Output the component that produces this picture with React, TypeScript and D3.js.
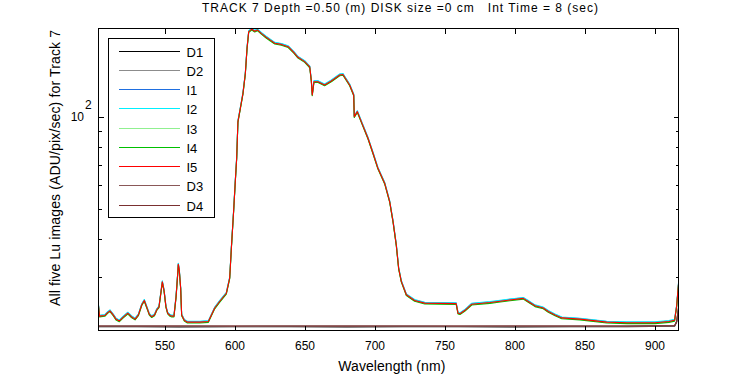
import React from "react";
import * as d3 from "d3";

// ---------- data ----------
const titleText = "TRACK 7 Depth =0.50 (m) DISK size =0 cm   Int Time = 8 (sec)";
const xLabelText = "Wavelength (nm)";
const yLabelText = "All five Lu images (ADU/pix/sec) for Track 7";

const xTicks = [550, 600, 650, 700, 750, 800, 850, 900];
const yMajorTicks = [100];
const yMinorTicks = [30, 40, 50, 60, 70, 80, 90];

const seriesNames = ["D1", "D2", "I1", "I2", "I3", "I4", "I5", "D3", "D4"];

// illuminated spectrum (wavelength nm, ADU/pix/sec)
const lightWavelengths = [
  502.5, 503.2, 507, 509, 510.7, 513, 515, 517.4, 520, 523.4, 526, 528.6, 531, 533.4, 535.2, 536.9,
  538.8, 540.5, 542.5, 544.1, 545.7, 547, 548.1, 549.3, 550.7, 551.9, 553.6, 554.8, 556.4, 557.9,
  559.1, 559.5, 560.2, 561.2, 561.9, 563.8, 566, 575, 581, 585.5, 589, 593.8, 596.2, 597.4, 599,
  600.2, 601.2, 602.1, 603.8, 605.7, 607.4, 608.6, 609.8, 612, 614.1, 616, 618.8, 622, 625, 628.4,
  633.1, 638, 642, 645, 649.8, 653.4, 654.5, 655.2, 656.4, 659.3, 664, 668.8, 674.8, 677.1, 681.9,
  684.8, 685.2, 687.4, 690.2, 695, 698.6, 702.1, 706.9, 710.5, 712.9, 715.2, 716.9, 718.8, 722.4,
  728.3, 735.5, 758, 759.3, 760.7, 764.3, 769.1, 782.1, 788.1, 796.4, 805.9, 809.5, 814.3, 820.2,
  823.8, 828.6, 833.4, 846.4, 865.5, 880, 900, 910, 914, 915.5, 916.8,
];
const lightValues = [
  24.2, 22.4, 22.5, 23.0, 23.3, 22.6, 21.9, 21.6, 22.2, 22.9, 22.3, 21.9, 22.6, 24.4, 25.2, 24.0,
  22.7, 22.3, 22.6, 23.5, 24.0, 26.6, 29.0, 27.2, 24.0, 22.9, 22.5, 22.4, 22.4, 25.9,
  30.9, 33.1, 31.7, 27.6, 22.6, 21.7, 21.4, 21.4, 21.5, 23.8, 25.0, 26.6, 29.8, 37.3, 49.2,
  61.6, 73.5, 96.8, 106.9, 119.7, 139.2, 168, 190.5, 194, 191, 193, 188, 183, 179, 174.5,
  173, 170, 163, 157, 152, 146, 132, 118.3, 130.7, 130.7, 127.5, 131.4, 137.5, 138, 127.5,
  118.3, 100.5, 104.3, 96.8, 85.4, 76.3, 68.1, 60.9, 53.0, 45.6, 38.3, 32.1, 29.1, 26.3,
  25.2, 24.7, 24.6, 22.9, 22.8, 23.4, 24.5, 24.8, 25.0, 25.3, 25.6, 25.0, 24.2, 23.8,
  23.2, 22.6, 22.1, 21.9, 21.4, 21.3, 21.3, 21.5, 21.7, 24.2, 28.5,
];
// relative level of each illuminated image vs I5
const lightRelativeLevel = { I1: 1.004, I2: 1.007, I3: 0.998, I4: 0.994, I5: 1.0 };

// dark images
const darkWavelengths = [502.5, 530, 560, 600, 640, 680, 720, 760, 800, 840, 880, 914, 915.5, 916.8];
const darkD1 = [20.7, 20.7, 20.65, 20.7, 20.7, 20.65, 20.7, 20.7, 20.65, 20.7, 20.7, 20.75, 21.4, 23.5];
const darkD2 = [20.75, 20.75, 20.75, 20.72, 20.75, 20.75, 20.75, 20.72, 20.75, 20.75, 20.75, 20.8, 21.5, 23.8];
const darkD3 = [20.8, 20.78, 20.8, 20.78, 20.8, 20.78, 20.8, 20.78, 20.8, 20.78, 20.78, 20.85, 21.6, 24.0];
const darkD4 = [20.8, 20.8, 20.8, 20.8, 20.8, 20.8, 20.8, 20.8, 20.8, 20.8, 20.8, 20.85, 21.5, 23.8];

const colors: Record<string, string> = {
  D1: "#000000",
  D2: "#8c8c8c",
  I1: "#1f6fe0",
  I2: "#00f0ff",
  I3: "#90f090",
  I4: "#00c000",
  I5: "#ff0000",
  D3: "#8a5858",
  D4: "#7a3030",
};

// ---------- layout ----------
const W = 750;
const H = 375;
const L = 98.5;
const R = 678.5;
const T = 28.5;
const B = 330.5;

export default function App() {
  const x = d3.scaleLinear().domain([502.5, 916.8]).range([L, R]);
  const y = d3.scaleLog().domain([20.1, 195]).range([B, T]);

  const line = d3
    .line<[number, number]>()
    .x((d) => x(d[0]))
    .y((d) => y(d[1]));

  const darkMap: Record<string, number[]> = { D1: darkD1, D2: darkD2, D3: darkD3, D4: darkD4 };

  const seriesPaths = seriesNames.map((name) => {
    let pts: [number, number][];
    if (darkMap[name]) {
      pts = darkWavelengths.map((w, i) => [w, darkMap[name][i]] as [number, number]);
    } else {
      const k = (lightRelativeLevel as any)[name] as number;
      pts = lightWavelengths.map((w, i) => [w, lightValues[i] * k] as [number, number]);
    }
    return { name, d: line(pts) || "" };
  });

  const font = "'Liberation Sans', Arial, Helvetica, sans-serif";
  const legX = 108.5;
  const legY = 38.5;
  const rowH = 19.25;

  return (
    <svg
      width={W}
      height={H}
      style={{ position: "absolute", left: 0, top: 0, background: "#fff" }}
      fontFamily={font}
    >
      <rect x={0} y={0} width={W} height={H} fill="#fff" />
      <defs>
        <clipPath id="plotClip">
          <rect x={L} y={T - 1} width={R - L + 1} height={B - T + 2} />
        </clipPath>
      </defs>

      {/* data */}
      <g clipPath="url(#plotClip)">
        {seriesPaths.map((s) => (
          <path
            key={s.name}
            d={s.d}
            fill="none"
            stroke={colors[s.name]}
            strokeWidth={1.1}
            strokeLinejoin="round"
          />
        ))}
      </g>

      {/* frame */}
      <rect x={L} y={T} width={R - L} height={B - T} fill="none" stroke="#000" strokeWidth={1} shapeRendering="crispEdges" />

      {/* x ticks */}
      {xTicks.map((t) => (
        <g key={"x" + t} shapeRendering="crispEdges">
          <line x1={Math.round(x(t)) + 0.5} x2={Math.round(x(t)) + 0.5} y1={B} y2={B - 5} stroke="#000" />
          <line x1={Math.round(x(t)) + 0.5} x2={Math.round(x(t)) + 0.5} y1={T} y2={T + 5} stroke="#000" />
          <text x={x(t)} y={349.5} fontSize={12} textAnchor="middle" fill="#000">
            {t}
          </text>
        </g>
      ))}

      {/* y ticks */}
      {yMajorTicks.map((t) => (
        <g key={"ym" + t} shapeRendering="crispEdges">
          <line x1={L} x2={L + 5} y1={Math.round(y(t)) + 0.5} y2={Math.round(y(t)) + 0.5} stroke="#000" />
          <line x1={R} x2={R - 5} y1={Math.round(y(t)) + 0.5} y2={Math.round(y(t)) + 0.5} stroke="#000" />
          <text x={84} y={y(t) + 4} fontSize={12} textAnchor="end" fill="#000">
            10
          </text>
          <text x={85} y={y(t) - 8.5} fontSize={12} textAnchor="start" fill="#000">
            2
          </text>
        </g>
      ))}
      {yMinorTicks.map((t) => (
        <g key={"yn" + t} shapeRendering="crispEdges">
          <line x1={L} x2={L + 3} y1={Math.round(y(t)) + 0.5} y2={Math.round(y(t)) + 0.5} stroke="#000" />
          <line x1={R} x2={R - 3} y1={Math.round(y(t)) + 0.5} y2={Math.round(y(t)) + 0.5} stroke="#000" />
        </g>
      ))}

      {/* legend */}
      <rect
        x={legX}
        y={legY}
        width={106}
        height={179}
        fill="#fff"
        stroke="#000"
        strokeWidth={1}
        shapeRendering="crispEdges"
      />
      {seriesNames.map((name, i) => {
        const ly = Math.round(legY + 12.2 + i * rowH) + 0.5;
        return (
          <g key={"leg" + name}>
            <line x1={119} x2={180} y1={ly} y2={ly} stroke={colors[name]} strokeWidth={1} shapeRendering="crispEdges" />
            <text x={186.5} y={ly + 5} fontSize={13} fill="#000">
              {name}
            </text>
          </g>
        );
      })}

      {/* titles */}
      <text x={202} y={12} fontSize={12} textLength={396} lengthAdjust="spacing" fill="#000" style={{ whiteSpace: "pre" }}>
        {titleText}
      </text>
      <text x={338.3} y={370.5} fontSize={14} textLength={107} lengthAdjust="spacing" fill="#000">
        {xLabelText}
      </text>
      <text
        transform={`translate(59.5,306) rotate(-90)`}
        x={0}
        y={0}
        fontSize={14}
        textLength={276}
        lengthAdjust="spacing"
        fill="#000"
      >
        {yLabelText}
      </text>
    </svg>
  );
}
